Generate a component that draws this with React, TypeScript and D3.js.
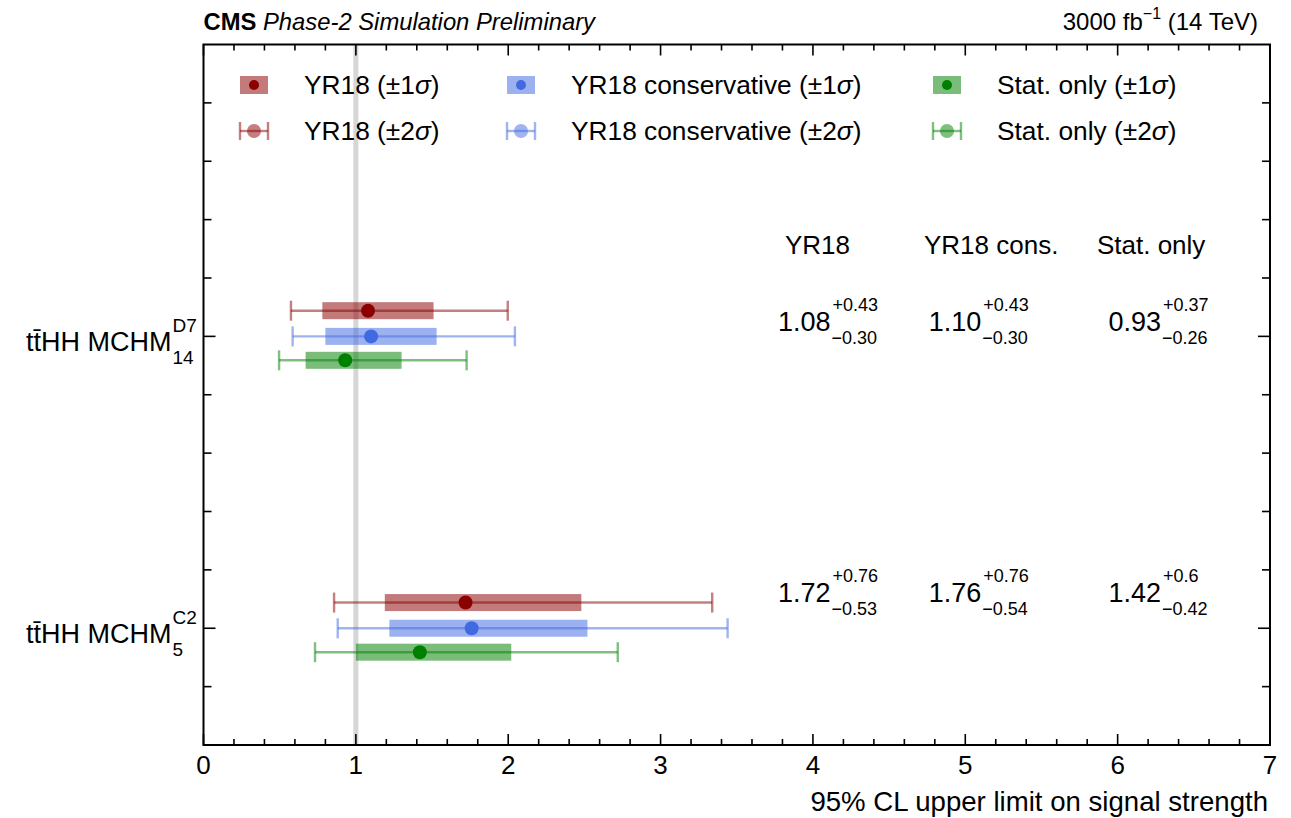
import React, { useEffect, useRef } from "react";
import * as d3 from "d3";

// ---------- data ----------
const categoryBase = ["tt\u0304HH MCHM", "tt\u0304HH MCHM"];
const categorySup = ["D7", "C2"];
const categorySub = ["14", "5"];

const scenarios = ["YR18", "YR18 conservative", "Stat. only"];
const tableHeads = ["YR18", "YR18 cons.", "Stat. only"];

// median expected limits [category][scenario]
const medians = [
  [1.08, 1.1, 0.93],
  [1.72, 1.76, 1.42],
];
// +1 sigma / -1 sigma (values)
const plus1 = [
  [0.43, 0.43, 0.37],
  [0.76, 0.76, 0.6],
];
const minus1 = [
  [0.3, 0.3, 0.26],
  [0.53, 0.54, 0.42],
];
// printed labels of the errors
const plus1Text = [
  ["+0.43", "+0.43", "+0.37"],
  ["+0.76", "+0.76", "+0.6"],
];
const minus1Text = [
  ["\u22120.30", "\u22120.30", "\u22120.26"],
  ["\u22120.53", "\u22120.54", "\u22120.42"],
];
// -2 sigma / +2 sigma band edges
const low2 = [
  [0.574, 0.585, 0.496],
  [0.857, 0.881, 0.732],
];
const high2 = [
  [1.997, 2.044, 1.727],
  [3.339, 3.44, 2.719],
];

const xTicks = [0, 1, 2, 3, 4, 5, 6, 7];

// ---------- style ----------
const colors = ["#8b0000", "#4169e1", "#008000"];
const FONT = "'Liberation Sans', Arial, Helvetica, sans-serif";

export default function App() {
  const ref = useRef<SVGSVGElement>(null);

  useEffect(() => {
    document.body.style.margin = "0";
    const svg = d3.select(ref.current as SVGSVGElement);
    svg.selectAll("*").remove();

    const m = { left: 203.5, right: 1270, top: 44.5, bottom: 745 };
    const x = d3.scaleLinear().domain([0, 7]).range([m.left, m.right]);
    const y = d3.scaleLinear().domain([0, 12]).range([m.top, m.bottom]);
    const catY = (i: number) => y(5 * (i + 1));
    const rowOffset = [-0.44, 0, 0.41];

    const root = svg.append("g").attr("font-family", FONT).attr("fill", "#000");

    // reference line at 1
    root
      .append("line")
      .attr("x1", x(1))
      .attr("x2", x(1))
      .attr("y1", m.top)
      .attr("y2", m.bottom)
      .attr("stroke", "#000")
      .attr("stroke-opacity", 0.16)
      .attr("stroke-width", 5);

    // marks
    const capH = 20;
    const bandH = 17;
    medians.forEach((row, ci) => {
      row.forEach((med, si) => {
        const yy = y(5 * (ci + 1) + rowOffset[si]);
        const c = colors[si];
        const eg = root.append("g");
        eg.append("line")
          .attr("x1", x(low2[ci][si]))
          .attr("x2", x(high2[ci][si]))
          .attr("y1", yy)
          .attr("y2", yy)
          .attr("stroke", c)
          .attr("stroke-opacity", 0.5)
          .attr("stroke-width", 2.4);
        [low2[ci][si], high2[ci][si]].forEach((v) => {
          eg.append("line")
            .attr("x1", x(v))
            .attr("x2", x(v))
            .attr("y1", yy - capH / 2)
            .attr("y2", yy + capH / 2)
            .attr("stroke", c)
            .attr("stroke-opacity", 0.5)
            .attr("stroke-width", 2.4);
        });
        eg.append("rect")
          .attr("x", x(med - minus1[ci][si]))
          .attr("width", x(med + plus1[ci][si]) - x(med - minus1[ci][si]))
          .attr("y", yy - bandH / 2)
          .attr("height", bandH)
          .attr("fill", c)
          .attr("fill-opacity", 0.52);
        eg.append("circle").attr("cx", x(med)).attr("cy", yy).attr("r", 7).attr("fill", c);
      });
    });

    // frame
    root
      .append("rect")
      .attr("x", m.left)
      .attr("y", m.top)
      .attr("width", m.right - m.left)
      .attr("height", m.bottom - m.top)
      .attr("fill", "none")
      .attr("stroke", "#000")
      .attr("stroke-width", 2);

    // x ticks (inward, top and bottom)
    const minorX = d3.range(0, 35).map((k) => k * 0.2).filter((v) => Math.abs(v - Math.round(v)) > 1e-6);
    const tg = root.append("g").attr("stroke", "#000").attr("stroke-width", 1.6);
    xTicks.forEach((v) => {
      tg.append("line").attr("x1", x(v)).attr("x2", x(v)).attr("y1", m.bottom).attr("y2", m.bottom - 11);
      tg.append("line").attr("x1", x(v)).attr("x2", x(v)).attr("y1", m.top).attr("y2", m.top + 11);
    });
    minorX.forEach((v) => {
      tg.append("line").attr("x1", x(v)).attr("x2", x(v)).attr("y1", m.bottom).attr("y2", m.bottom - 6);
      tg.append("line").attr("x1", x(v)).attr("x2", x(v)).attr("y1", m.top).attr("y2", m.top + 6);
    });
    // y ticks
    d3.range(1, 12).forEach((v) => {
      const major = v % 5 === 0;
      const L = major ? 12 : 8;
      tg.append("line").attr("x1", m.left).attr("x2", m.left + L).attr("y1", y(v)).attr("y2", y(v));
      tg.append("line").attr("x1", m.right).attr("x2", m.right - L).attr("y1", y(v)).attr("y2", y(v));
    });

    // x tick labels
    xTicks.forEach((v) => {
      root
        .append("text")
        .attr("x", x(v))
        .attr("y", 774)
        .attr("text-anchor", "middle")
        .attr("font-size", 26)
        .text(String(v));
    });

    // x axis title
    root
      .append("text")
      .attr("x", m.right - 2)
      .attr("y", 811)
      .attr("text-anchor", "end")
      .attr("font-size", 27.6)
      .text("95% CL upper limit on signal strength");

    // y category labels
    categoryBase.forEach((lab, i) => {
      const cy = catY(i);
      const t = root
        .append("text")
        .attr("x", 26)
        .attr("y", cy + 15)
        .attr("font-size", 27)
        .text(lab);
      const len = (t.node() as SVGTextElement).getComputedTextLength();
      root
        .append("text")
        .attr("x", 26 + len + 1)
        .attr("y", cy - 4)
        .attr("font-size", 19)
        .text(categorySup[i]);
      root
        .append("text")
        .attr("x", 26 + len + 1)
        .attr("y", cy + 28)
        .attr("font-size", 19)
        .text(categorySub[i]);
    });

    // header
    const h = root.append("text").attr("x", m.left).attr("y", 30).attr("font-size", 23.8);
    h.append("tspan").attr("font-weight", "bold").text("CMS");
    h.append("tspan").attr("font-style", "italic").text(" Phase-2 Simulation Preliminary");
    const hr = root.append("text").attr("x", 1258).attr("y", 30).attr("font-size", 24).attr("text-anchor", "end");
    hr.append("tspan").text("3000 fb");
    hr.append("tspan").attr("dy", -11).attr("font-size", 16).text("\u22121");
    hr.append("tspan").attr("dy", 11).text(" (14 TeV)");

    // legend
    const legX = [254, 521, 947];
    const legY = [85, 131];
    scenarios.forEach((name, si) => {
      const c = colors[si];
      const cx = legX[si];
      // band entry
      const lg = root.append("g");
      lg.append("rect")
        .attr("x", cx - 14)
        .attr("y", legY[0] - 9)
        .attr("width", 28)
        .attr("height", 18)
        .attr("fill", c)
        .attr("fill-opacity", 0.52);
      lg.append("circle").attr("cx", cx).attr("cy", legY[0]).attr("r", 5).attr("fill", c);
      // error bar entry
      lg.append("line")
        .attr("x1", cx - 14)
        .attr("x2", cx + 14)
        .attr("y1", legY[1])
        .attr("y2", legY[1])
        .attr("stroke", c)
        .attr("stroke-opacity", 0.5)
        .attr("stroke-width", 2.4);
      [cx - 14, cx + 14].forEach((px) => {
        lg.append("line")
          .attr("x1", px)
          .attr("x2", px)
          .attr("y1", legY[1] - 9)
          .attr("y2", legY[1] + 9)
          .attr("stroke", c)
          .attr("stroke-opacity", 0.5)
          .attr("stroke-width", 2.4);
      });
      lg.append("circle").attr("cx", cx).attr("cy", legY[1]).attr("r", 7).attr("fill", c).attr("fill-opacity", 0.5);
      ["1", "2"].forEach((n, r) => {
        const t = root
          .append("text")
          .attr("x", cx + 50)
          .attr("y", legY[r] + 9)
          .attr("font-size", 26.3);
        t.append("tspan").text(`${name} (\u00b1${n}`);
        t.append("tspan").attr("font-style", "italic").text("\u03c3");
        t.append("tspan").text(")");
      });
    });

    // table
    const headX = [4.03, 5.17, 6.22];
    const valX = [3.77, 4.76, 5.94];
    const valY = [331, 602];
    tableHeads.forEach((hd, si) => {
      root
        .append("text")
        .attr("x", x(headX[si]))
        .attr("y", 254)
        .attr("text-anchor", "middle")
        .attr("font-size", 26)
        .text(hd);
    });
    medians.forEach((row, ci) => {
      row.forEach((med, si) => {
        const t = root
          .append("text")
          .attr("x", x(valX[si]))
          .attr("y", valY[ci])
          .attr("font-size", 27)
          .text(med.toFixed(2));
        const len = (t.node() as SVGTextElement).getComputedTextLength();
        root
          .append("text")
          .attr("x", x(valX[si]) + len + 2)
          .attr("y", valY[ci] - 20)
          .attr("font-size", 18)
          .text(plus1Text[ci][si]);
        root
          .append("text")
          .attr("x", x(valX[si]) + len + 1)
          .attr("y", valY[ci] + 13)
          .attr("font-size", 18)
          .text(minus1Text[ci][si]);
      });
    });
  }, []);

  return <svg ref={ref} width={1291} height={818} style={{ display: "block", background: "#fff" }} />;
}
